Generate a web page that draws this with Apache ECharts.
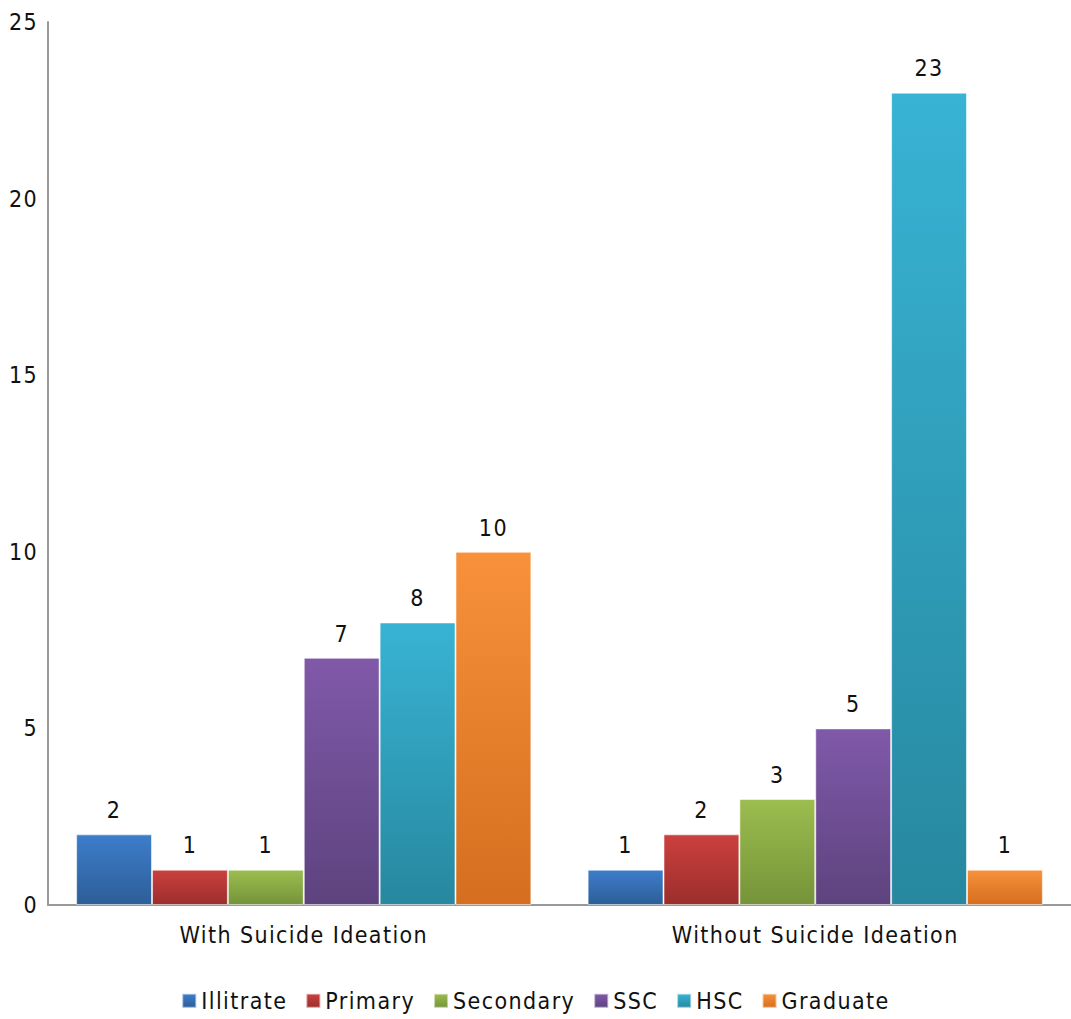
<!DOCTYPE html>
<html>
<head>
<meta charset="utf-8">
<script src="https://cdn.jsdelivr.net/npm/echarts@6/dist/echarts.min.js"></script>
<style>
  html, body { margin: 0; padding: 0; background: #fff; }
  #chart { width: 1071px; height: 1019px; }
  /* tracked-out lettering for every label */
  #chart text { letter-spacing: 1.4px; }
</style>
</head>
<body>
<div id="chart"></div>
<script>
// Education level counts by suicide ideation group
const categories = ['With Suicide Ideation', 'Without Suicide Ideation'];
const seriesNames = ['Illitrate', 'Primary', 'Secondary', 'SSC', 'HSC', 'Graduate'];
const illiterate = [2, 1];
const primary = [1, 2];
const secondary = [1, 3];
const ssc = [7, 5];
const hsc = [8, 23];
const graduate = [10, 1];
const yTicks = [0, 5, 10, 15, 20, 25];

const values = [illiterate, primary, secondary, ssc, hsc, graduate];
// top / bottom shades for the vertical gradient of each series
const shades = [
  ['#3d7dcb', '#2d5e97'],
  ['#cb403e', '#9b2e2c'],
  ['#9cbd4f', '#759339'],
  ['#8059a9', '#5d437e'],
  ['#38b3d4', '#27889f'],
  ['#f8913a', '#d56e1f']
];
const FONT = '"DejaVu Sans Condensed", "DejaVu Sans", sans-serif';
const FS = 23;
const TRACKING = '1.4px';

// text measurement that includes the letter spacing used when drawing
const measureCtx = document.createElement('canvas').getContext('2d');
echarts.setPlatformAPI({
  measureText: function (text, font) {
    measureCtx.font = font || '12px sans-serif';
    measureCtx.letterSpacing = TRACKING;
    return measureCtx.measureText(text);
  }
});

const chart = echarts.init(document.getElementById('chart'), null, { renderer: 'svg' });
chart.setOption({
  animation: false,
  textStyle: { fontFamily: FONT },
  grid: { left: 48, right: 0, top: 22, bottom: 114, containLabel: false },
  legend: {
    bottom: 1,
    left: 'center',
    itemWidth: 14,
    itemHeight: 14,
    itemGap: 18,
    icon: 'rect',
    textStyle: { fontSize: FS, color: '#111', fontFamily: FONT },
    data: seriesNames
  },
  xAxis: {
    type: 'category',
    data: categories,
    axisLine: { lineStyle: { color: '#999', width: 2 } },
    axisTick: { show: false },
    axisLabel: { fontSize: FS, color: '#111', margin: 18, fontFamily: FONT }
  },
  yAxis: {
    type: 'value',
    min: yTicks[0],
    max: yTicks[yTicks.length - 1],
    interval: 5,
    splitLine: { show: false },
    axisLine: { show: true, lineStyle: { color: '#999', width: 2 } },
    axisTick: { show: false },
    axisLabel: { fontSize: FS, color: '#111', margin: 10, fontFamily: FONT }
  },
  series: seriesNames.map((name, i) => ({
    name: name,
    type: 'bar',
    data: values[i],
    barGap: '0%',
    barCategoryGap: '11%',
    itemStyle: {
      color: new echarts.graphic.LinearGradient(0, 0, 0, 1, [
        { offset: 0, color: shades[i][0] },
        { offset: 1, color: shades[i][1] }
      ]),
      borderColor: 'rgba(255,255,255,0.55)',
      borderWidth: 1
    },
    label: {
      show: true,
      position: 'top',
      distance: 12,
      fontSize: FS,
      color: '#111',
      fontFamily: FONT
    }
  }))
});
</script>
</body>
</html>
